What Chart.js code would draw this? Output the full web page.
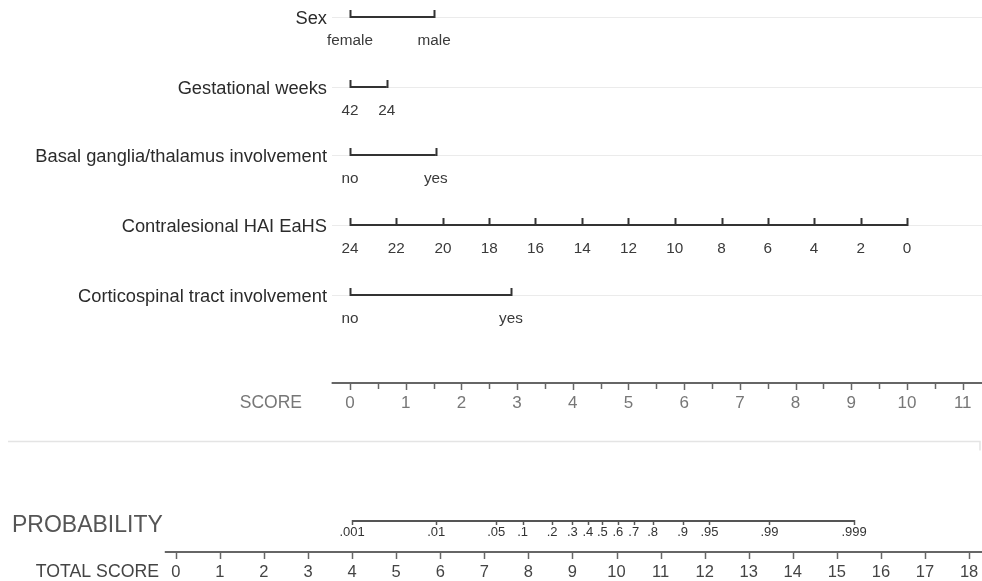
<!DOCTYPE html>
<html lang="en">
<head>
  <meta charset="UTF-8">
  <title>Nomogram</title>
  <script src="https://cdn.jsdelivr.net/npm/chart.js"></script>
  <style>
    body { margin: 0; background: #fff; }
    canvas { display: block; }
  </style>
</head>
<body>
  <canvas id="nomo" width="982" height="581"></canvas>

  <script>
// predictors: level labels and the points each level gets
const sexLevels = ['female', 'male'];
const sexPoints = [0, 1.51];

const gestLevels = ['42', '24'];
const gestPoints = [0, 0.66];

const bgLevels = ['no', 'yes'];
const bgPoints = [0, 1.54];

const haiLevels = ['24', '22', '20', '18', '16', '14', '12', '10', '8', '6', '4', '2', '0'];
const haiPoints = [0, 0.83, 1.67, 2.5, 3.33, 4.17, 5, 5.83, 6.67, 7.5, 8.33, 9.17, 10];

const cstLevels = ['no', 'yes'];
const cstPoints = [0, 2.89];

// score / total score axes
const scoreTicks = [0, 1, 2, 3, 4, 5, 6, 7, 8, 9, 10, 11];
const scoreMinor = [0.5, 1.5, 2.5, 3.5, 4.5, 5.5, 6.5, 7.5, 8.5, 9.5, 10.5];
const totalTicks = [0, 1, 2, 3, 4, 5, 6, 7, 8, 9, 10, 11, 12, 13, 14, 15, 16, 17, 18];

// probability labels and the total score where each one sits
const probLabels = ['.001', '.01', '.05', '.1', '.2', '.3', '.4', '.5', '.6', '.7', '.8', '.9', '.95', '.99', '.999'];
const probTotals = [4.0, 5.91, 7.27, 7.87, 8.54, 9.0, 9.35, 9.68, 10.03, 10.39, 10.82, 11.5, 12.11, 13.47, 15.39];

// layout (rows in canvas pixels, scale ranges chosen so the axes line up)
const FONT = '"Liberation Sans", Arial, Helvetica, sans-serif';
const rows = { sex: 17, gest: 87, bg: 155, hai: 225, cst: 295, score: 383, prob: 521, total: 552 };

const predictors = [
  { name: 'Sex', levels: sexLevels, pts: sexPoints, y: rows.sex },
  { name: 'Gestational weeks', levels: gestLevels, pts: gestPoints, y: rows.gest },
  { name: 'Basal ganglia/thalamus involvement', levels: bgLevels, pts: bgPoints, y: rows.bg },
  { name: 'Contralesional HAI EaHS', levels: haiLevels, pts: haiPoints, y: rows.hai },
  { name: 'Corticospinal tract involvement', levels: cstLevels, pts: cstPoints, y: rows.cst }
];

function seg(points, y) {
  return points.map(p => ({ x: p, y: y }));
}

const datasets = predictors.map(p => ({
  data: seg(p.pts, p.y),
  xAxisID: 'x',
  borderColor: '#333',
  borderWidth: 2
}));

// score axis runs past 11 to the right edge
datasets.push({
  data: [{ x: -0.33, y: rows.score }, { x: 11.35, y: rows.score }],
  xAxisID: 'x',
  borderColor: '#666',
  borderWidth: 2
});
datasets.push({
  data: [{ x: probTotals[0], y: rows.prob }, { x: probTotals[probTotals.length - 1], y: rows.prob }],
  xAxisID: 'xt',
  borderColor: '#555',
  borderWidth: 2
});
datasets.push({
  data: [{ x: -0.25, y: rows.total }, { x: 18.3, y: rows.total }],
  xAxisID: 'xt',
  borderColor: '#666',
  borderWidth: 2
});

function text(ctx, str, x, y, size, color, align, base) {
  ctx.font = size + 'px ' + FONT;
  ctx.fillStyle = color;
  ctx.textAlign = align || 'center';
  ctx.textBaseline = base || 'middle';
  ctx.fillText(str, x, y);
}

function vline(ctx, x, y0, y1, color, w) {
  ctx.strokeStyle = color;
  ctx.lineWidth = w;
  ctx.beginPath();
  ctx.moveTo(Math.round(x) + 0.5, y0);
  ctx.lineTo(Math.round(x) + 0.5, y1);
  ctx.stroke();
}

const nomogramDecor = {
  id: 'nomogramDecor',
  beforeDatasetsDraw(chart) {
    const ctx = chart.ctx;
    const sy = chart.scales.y;
    ctx.save();
    // faint guide lines behind each predictor
    ctx.strokeStyle = '#ebebeb';
    ctx.lineWidth = 1;
    predictors.forEach(p => {
      const y = Math.round(sy.getPixelForValue(p.y)) + 0.5;
      ctx.beginPath();
      ctx.moveTo(332, y);
      ctx.lineTo(982, y);
      ctx.stroke();
    });
    // separator between score and probability sections
    const dy = Math.round(sy.getPixelForValue(441)) + 0.5;
    ctx.strokeStyle = '#e4e4e4';
    ctx.lineWidth = 1.5;
    ctx.beginPath();
    ctx.moveTo(8, dy);
    ctx.lineTo(980, dy);
    ctx.lineTo(980, dy + 9);
    ctx.stroke();
    ctx.restore();
  },
  afterDatasetsDraw(chart) {
    const ctx = chart.ctx;
    const sx = chart.scales.x;
    const st = chart.scales.xt;
    const sy = chart.scales.y;
    ctx.save();

    predictors.forEach(p => {
      const y = sy.getPixelForValue(p.y);
      text(ctx, p.name, 327, y + 7, 18.3, '#2b2b2b', 'right', 'alphabetic');
      p.pts.forEach((v, i) => {
        const x = sx.getPixelForValue(v);
        vline(ctx, x, y - 7, y + 1, '#333', 2);
        text(ctx, p.levels[i], x, y + 24, 15.3, '#3a3a3a');
      });
    });

    // SCORE
    const ys = sy.getPixelForValue(rows.score);
    text(ctx, 'SCORE', 302, ys + 20, 17.5, '#777', 'right');
    scoreMinor.forEach(v => vline(ctx, sx.getPixelForValue(v), ys, ys + 6, '#666', 1.5));
    scoreTicks.forEach(v => {
      const x = sx.getPixelForValue(v);
      vline(ctx, x, ys, ys + 7, '#666', 1.5);
      text(ctx, String(v), x, ys + 20, 17, '#777');
    });

    // PROBABILITY
    const yp = sy.getPixelForValue(rows.prob);
    text(ctx, 'PROBABILITY', 12, yp + 5, 23, '#555', 'left');
    probTotals.forEach((v, i) => {
      const x = st.getPixelForValue(v);
      vline(ctx, x, yp - 1, yp + 4, '#555', 1.5);
      text(ctx, probLabels[i], x, yp + 11, 13, '#333');
    });

    // TOTAL SCORE
    const yt = sy.getPixelForValue(rows.total);
    text(ctx, 'TOTAL SCORE', 159, yt + 20, 17.7, '#444', 'right');
    totalTicks.forEach(v => {
      const x = st.getPixelForValue(v);
      vline(ctx, x, yt, yt + 7, '#666', 1.5);
      text(ctx, String(v), x, yt + 20, 16.5, '#444');
    });

    ctx.restore();
  }
};

new Chart(document.getElementById('nomo'), {
  type: 'line',
  data: { datasets: datasets },
  options: {
    responsive: false,
    animation: false,
    events: [],
    layout: { padding: 0 },
    elements: { point: { radius: 0 }, line: { borderCapStyle: 'butt', tension: 0 } },
    plugins: { legend: { display: false }, tooltip: { enabled: false } },
    scales: {
      // points axis: 0 at x=350, 10 at x=907
      x: { type: 'linear', display: false, min: -350 / 55.7, max: (982 - 350) / 55.7 },
      // total score axis: 0 at x=175.8, 18 at x=969
      xt: { type: 'linear', display: false, min: -175.8 / 44.07, max: (982 - 175.8) / 44.07 },
      y: { type: 'linear', display: false, min: 0, max: 581, reverse: true }
    }
  },
  plugins: [nomogramDecor]
});
  </script>
</body>
</html>
